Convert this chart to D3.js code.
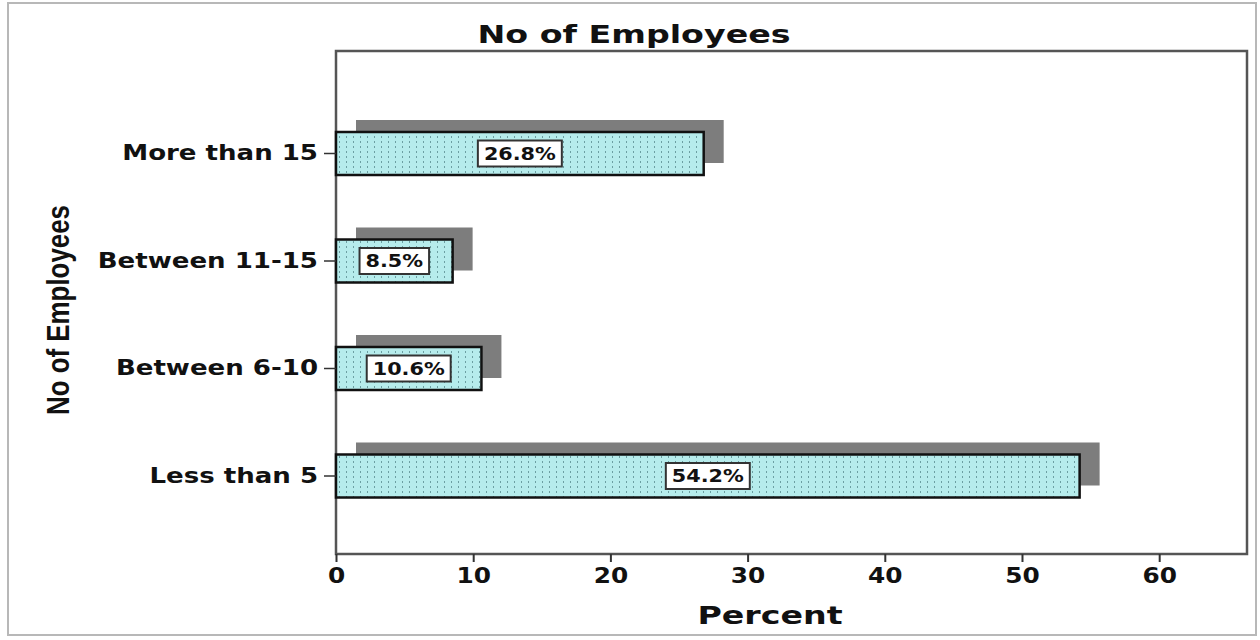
<!DOCTYPE html>
<html>
<head>
<meta charset="utf-8">
<script src="https://cdn.jsdelivr.net/npm/d3@7"></script>
<style>
  body { margin: 0; background: #fff; }
  text { font-family: "DejaVu Sans", Arial, sans-serif; font-weight: bold; fill: #111; }
</style>
</head>
<body>
<svg id="svg"></svg>
<script>
const width = 1260, height = 640;

// data
const categories = ["More than 15", "Between 11-15", "Between 6-10", "Less than 5"];
const percents = [26.8, 8.5, 10.6, 54.2];
const xTicks = [0, 10, 20, 30, 40, 50, 60];

const plot = {left: 336, top: 51, right: 1247, bottom: 554};

const svg = d3.select("#svg")
    .attr("width", width)
    .attr("height", height);

// the original uses a wide font, so stretch text horizontally
function stretch(sel, k) {
    sel.each(function() {
        const w = this.getComputedTextLength();
        d3.select(this)
            .attr("textLength", w * k)
            .attr("lengthAdjust", "spacingAndGlyphs");
    });
}

// outer frame
svg.append("rect")
    .attr("x", 8).attr("y", 3)
    .attr("width", 1248).attr("height", 632)
    .attr("fill", "#fff")
    .attr("stroke", "#b8b8b8")
    .attr("stroke-width", 2);

const defs = svg.append("defs");
const pat = defs.append("pattern")
    .attr("id", "dots")
    .attr("patternUnits", "userSpaceOnUse")
    .attr("width", 7).attr("height", 5);
pat.append("rect").attr("width", 7).attr("height", 5).attr("fill", "#b6ecec");
pat.append("rect").attr("x", 3).attr("y", 1).attr("width", 1).attr("height", 2).attr("fill", "#6c9fa2");

const x = d3.scaleLinear()
    .domain([0, 66.4])
    .range([plot.left, plot.right]);

const y = d3.scaleBand()
    .domain(categories)
    .range([99.75, 529.75])
    .paddingInner(0.6)
    .paddingOuter(0.3);

// plot box
svg.append("rect")
    .attr("x", plot.left).attr("y", plot.top)
    .attr("width", plot.right - plot.left)
    .attr("height", plot.bottom - plot.top)
    .attr("fill", "#fff")
    .attr("stroke", "#555")
    .attr("stroke-width", 2.5);

const data = categories.map((c, i) => ({cat: c, value: percents[i]}));

// shadows
svg.append("g")
    .selectAll("rect")
    .data(data)
    .join("rect")
    .attr("x", x(0) + 20)
    .attr("y", d => y(d.cat) - 12)
    .attr("width", d => x(d.value) - x(0))
    .attr("height", y.bandwidth())
    .attr("fill", "#7d7d7d");

// bars
svg.append("g")
    .selectAll("rect")
    .data(data)
    .join("rect")
    .attr("x", x(0))
    .attr("y", d => y(d.cat))
    .attr("width", d => x(d.value) - x(0))
    .attr("height", y.bandwidth())
    .attr("fill", "url(#dots)")
    .attr("stroke", "#111")
    .attr("stroke-width", 2.5);

// value labels
const lab = svg.append("g")
    .selectAll("g")
    .data(data)
    .join("g")
    .attr("transform", d => `translate(${(x(0) + x(d.value)) / 2}, ${y(d.cat) + y.bandwidth() / 2})`);

lab.append("text")
    .attr("text-anchor", "middle")
    .attr("dy", "0.36em")
    .style("font-size", "17px")
    .text(d => d.value.toFixed(1) + "%")
    .call(stretch, 1.22);

lab.each(function() {
    const g = d3.select(this);
    const bb = g.select("text").node().getBBox();
    g.insert("rect", "text")
        .attr("x", bb.x - 6).attr("y", -13)
        .attr("width", bb.width + 12).attr("height", 26)
        .attr("fill", "#fff")
        .attr("stroke", "#333")
        .attr("stroke-width", 2);
});

// x axis
const xAxis = svg.append("g")
    .attr("transform", `translate(0, ${plot.bottom})`)
    .call(d3.axisBottom(x).tickValues(xTicks).tickSize(8).tickPadding(6).tickSizeOuter(0));
xAxis.select(".domain").remove();
xAxis.selectAll("line").attr("stroke", "#333").attr("stroke-width", 2);
xAxis.selectAll("text")
    .style("font-size", "21px")
    .style("font-family", "DejaVu Sans, sans-serif")
    .call(stretch, 1.18);

// y axis
const yAxis = svg.append("g")
    .attr("transform", `translate(${plot.left}, 0)`)
    .call(d3.axisLeft(y).tickSize(12).tickPadding(6).tickSizeOuter(0));
yAxis.select(".domain").remove();
yAxis.selectAll("line").attr("stroke", "#333").attr("stroke-width", 1.5);
yAxis.selectAll("text")
    .style("font-size", "21px")
    .style("font-family", "DejaVu Sans, sans-serif")
    .call(stretch, 1.24);

// titles
svg.append("text")
    .attr("x", 634).attr("y", 43)
    .attr("text-anchor", "middle")
    .style("font-size", "25px")
    .text("No of Employees")
    .call(stretch, 1.33);

svg.append("text")
    .attr("x", 770).attr("y", 624)
    .attr("text-anchor", "middle")
    .style("font-size", "25px")
    .text("Percent")
    .call(stretch, 1.33);

svg.append("text")
    .attr("transform", "translate(69, 310) rotate(-90)")
    .attr("text-anchor", "middle")
    .style("font-family", "'Liberation Sans Narrow', 'Liberation Sans', sans-serif")
    .style("font-size", "31px")
    .text("No of Employees")
    .attr("textLength", 210)
    .attr("lengthAdjust", "spacingAndGlyphs");
</script>
</body>
</html>
